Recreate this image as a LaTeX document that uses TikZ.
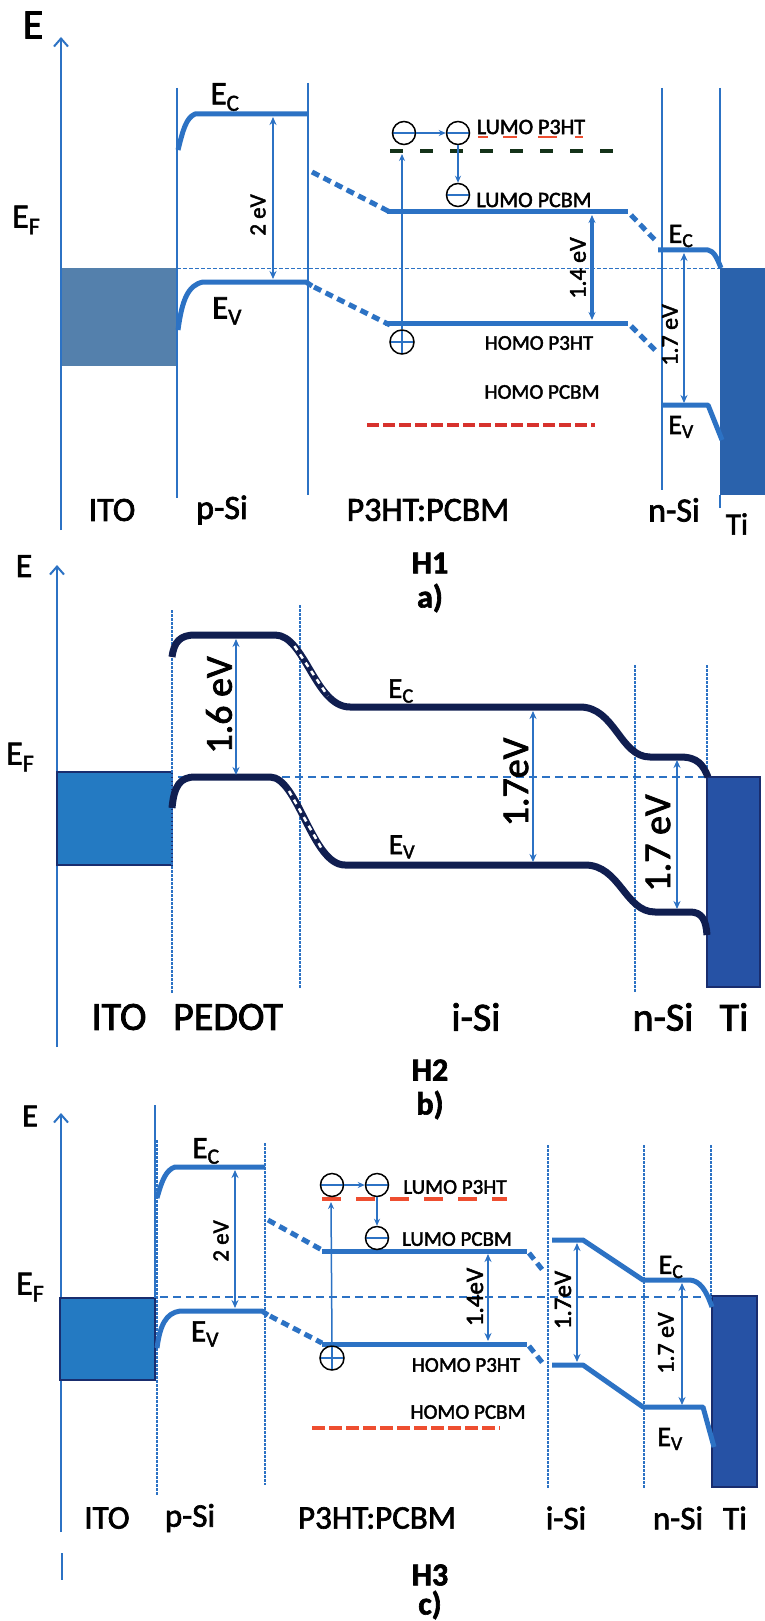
\documentclass[tikz,border=0pt]{standalone}
\usepackage{fontspec}
\setmainfont{Carlito}[FakeBold=2]
\usetikzlibrary{arrows.meta}
\newcommand\myfs[1]{\fontsize{#1}{#1}\selectfont}
\definecolor{blueA}{RGB}{44,114,196}
\definecolor{itoA}{RGB}{84,128,172}
\definecolor{tiA}{RGB}{42,98,172}
\definecolor{navy}{RGB}{16,30,80}
\definecolor{itoB}{RGB}{36,122,194}
\definecolor{tiB}{RGB}{38,82,165}
\definecolor{boxline}{RGB}{25,45,110}
\definecolor{greenD}{RGB}{20,50,25}
\definecolor{redA}{RGB}{215,50,45}
\definecolor{redC}{RGB}{238,78,48}
\tikzset{
  lbl/.style={inner sep=0pt, text=black},
  band/.style={draw=blueA, line width=5pt, line join=round},
  dband/.style={draw=blueA, line width=5pt, dash pattern=on 8pt off 5pt},
  nband/.style={draw=navy, line width=7pt, line join=round},
  wdash/.style={draw=white, line width=2.5pt, dash pattern=on 5pt off 5pt},
  vl/.style={draw=blueA, line width=1.5pt},
  dv/.style={draw=blueA, line width=2pt, dash pattern=on 2.5pt off 1.5pt},
  efa/.style={draw=blueA, line width=1pt, dash pattern=on 4pt off 2pt},
  efb/.style={draw=blueA, line width=2pt, dash pattern=on 8pt off 5pt},
  meas/.style={draw=blueA, line width=2pt, {Stealth[length=8pt,width=7pt]}-{Stealth[length=8pt,width=7pt]}},
  ax/.style={draw=blueA, line width=2pt, -{Straight Barb[length=8pt,width=14pt]}},
  earr/.style={draw=blueA, line width=1.5pt, -{Stealth[length=7pt,width=6pt]}},
  eminus/.style={circle, draw=black, line width=1.5pt, minimum size=23pt, inner sep=0pt,
    path picture={\draw[blueA, line width=1.5pt] (path picture bounding box.west) -- (path picture bounding box.east);}},
  eplus/.style={circle, draw=black, line width=1.5pt, minimum size=24pt, inner sep=0pt,
    path picture={\draw[blueA, line width=1.5pt] (path picture bounding box.west) -- (path picture bounding box.east)
      (path picture bounding box.north) -- (path picture bounding box.south);}},
}
\begin{document}
\begin{tikzpicture}[x=1pt,y=-1pt]
\useasboundingbox[fill=white] (0,0) rectangle (765,1621);

% ================= Panel a =================
\fill[itoA] (61,268) rectangle (177,366);
\coordinate (aAxB) at (61,530); \coordinate (aAxT) at (61,37);
\draw[ax] (aAxB) -- (aAxT);
\node[lbl,font=\myfs{42}] (aE) at (33,25) {E};
\node[lbl,font=\myfs{34},anchor=west] (aEF) at (12,220) {E\textsubscript{F}};
\draw[vl] (177,88) -- (177,498);
\draw[vl] (308,83) -- (308,495);
\draw[vl] (662,88) -- (662,490);
\draw[vl] (720,88) -- (720,268);
\fill[tiA] (720,268) rectangle (765,495);
\draw[vl] (720,495) -- (720,508);
\draw[efa] (177,268) -- (720,268);
% bands
\draw[band] (178,150) .. controls (183,130) and (186,118) .. (195,114) -- (308,114);
\draw[band] (178,330) .. controls (182,300) and (188,285) .. (203,282) -- (306,282) -- (312,286);
\draw[dband] (312,172) -- (390,212);
\draw[dband] (314,287) -- (390,325);
\draw[band] (387,212) -- (628,212);
\draw[band] (385,323) -- (628,323);
\draw[dband] (631,215) -- (655,240);
\draw[dband] (631,326) -- (655,350);
\draw[band] (658,250) -- (708,250) .. controls (714,251) and (717,258) .. (721,268);
\draw[band] (662,405) -- (708,405) -- (722,440);
% labels of bands
\node[lbl,font=\myfs{33}] (aEc) at (225,97) {E\textsubscript{C}};
\node[lbl,font=\myfs{33}] (aEv) at (227,311) {E\textsubscript{V}};
\node[lbl,font=\myfs{28}] (aEc2) at (681,236) {E\textsubscript{C}};
\node[lbl,font=\myfs{28}] (aEv2) at (681,427) {E\textsubscript{V}};
% gaps
\coordinate (aG1t) at (273,117); \coordinate (aG1b) at (273,279);
\draw[meas] (aG1t) -- (aG1b);
\node[lbl,font=\myfs{23},rotate=90] (aG1l) at (258,215) {2 eV};
\coordinate (aG2t) at (592,215); \coordinate (aG2b) at (592,320);
\draw[meas,line width=4pt] (aG2t) -- (aG2b);
\node[lbl,font=\myfs{24},rotate=90] (aG2l) at (578,268) {1.4 eV};
\coordinate (aG3t) at (684,253); \coordinate (aG3b) at (684,403);
\draw[meas] (aG3t) -- (aG3b);
\node[lbl,font=\myfs{24},rotate=90] (aG3l) at (670,335) {1.7 eV};
% molecular levels
\draw[draw=greenD, line width=4pt, dash pattern=on 13pt off 17pt] (390,151) -- (615,151);
\draw[draw=redA, line width=4pt, dash pattern=on 12pt off 4pt] (367,425) -- (595,425);
\node[lbl,font=\myfs{22}] (aL1) at (531,127) {LUMO P3HT};
\foreach \xa/\xb in {478/488,503/517,538/557,575/583}{\draw[redC,line width=1.5pt] (\xa,137) -- (\xb,137);}
\node[lbl,font=\myfs{22}] (aL2) at (534,200) {LUMO PCBM};
\node[lbl,font=\myfs{21}] (aH1) at (539,343) {HOMO P3HT};
\node[lbl,font=\myfs{21}] (aH2) at (542,392) {HOMO PCBM};
% carriers
\node[eminus] (ae1) at (404,133) {};
\node[eminus] (ae2) at (458,133) {};
\node[eminus] (ae3) at (458,195) {};
\node[eplus] (ah) at (402,342) {};
\draw[earr] (ae1.east) -- (ae2.west);
\draw[earr] (ae2.south) -- (ae3.north);
\coordinate (aExc) at (402,154);
\draw[earr] (ah.north) -- (aExc);
% bottom labels
\node[lbl,font=\myfs{34}] (aITO) at (112,510) {ITO};
\node[lbl,font=\myfs{34}] (apSi) at (222,510) {p-Si};
\node[lbl,font=\myfs{34}] (aP3) at (428,510) {P3HT:PCBM};
\node[lbl,font=\myfs{34}] (anSi) at (674,510) {n-Si};
\node[lbl,font=\myfs{31}] (aTi) at (737,524) {Ti};
\node[lbl,font=\myfs{32}\bfseries] (aH) at (430,563) {H1};
\node[lbl,font=\myfs{32}\bfseries] (aTag) at (430,598) {a)};

% ================= Panel b =================
\coordinate (bAxB) at (57,1047); \coordinate (bAxT) at (57,565);
\draw[ax] (bAxB) -- (bAxT);
\node[lbl,font=\myfs{34}] (bE) at (24,566) {E};
\node[lbl,font=\myfs{34},anchor=west] (bEF) at (6,757) {E\textsubscript{F}};
\filldraw[fill=itoB, draw=boxline, line width=2pt] (57,772) rectangle (172,865);
\draw[dv] (172,610) -- (172,993);
\draw[dv] (300,605) -- (300,988);
\draw[dv] (635,665) -- (635,993);
\draw[dv] (707,665) -- (707,777);
\filldraw[fill=tiB, draw=boxline, line width=2pt] (707,777) rectangle (760,987);
\draw[efb] (178,777) -- (707,777);
\draw[nband] (172,657) .. controls (174,642) and (180,635) .. (195,635) -- (275,635) .. controls (305,635) and (315,707) .. (350,707) -- (580,707) .. controls (615,707) and (620,757) .. (650,757) -- (680,757) .. controls (698,757) and (703,765) .. (708,777);
\draw[wdash] (294.5,646) -- (327.8,696);
\draw[nband] (172,808) .. controls (174,786) and (180,777) .. (195,777) -- (270,777) .. controls (298,777) and (312,865) .. (345,865) -- (585,865) .. controls (620,865) and (625,912) .. (655,912) -- (690,912) .. controls (702,912) and (706,920) .. (707,935);
\draw[wdash] (289,791) -- (323,851);
\node[lbl,font=\myfs{29}] (bEc) at (401,691) {E\textsubscript{C}};
\node[lbl,font=\myfs{29}] (bEv) at (402,847) {E\textsubscript{V}};
\coordinate (bG1t) at (236,639); \coordinate (bG1b) at (236,775);
\draw[meas] (bG1t) -- (bG1b);
\node[lbl,font=\myfs{38},rotate=90] (bG1l) at (219,705) {1.6 eV};
\coordinate (bG2t) at (533,711); \coordinate (bG2b) at (533,862);
\draw[meas] (bG2t) -- (bG2b);
\node[lbl,font=\myfs{38},rotate=90] (bG2l) at (516,782) {1.7eV};
\coordinate (bG3t) at (677,760); \coordinate (bG3b) at (677,909);
\draw[meas] (bG3t) -- (bG3b);
\node[lbl,font=\myfs{38},rotate=90] (bG3l) at (658,843) {1.7 eV};
\node[lbl,font=\myfs{40}] (bITO) at (119,1017) {ITO};
\node[lbl,font=\myfs{40}] (bPED) at (228,1017) {PEDOT};
\node[lbl,font=\myfs{40}] (biSi) at (476,1017) {i-Si};
\node[lbl,font=\myfs{40}] (bnSi) at (663,1017) {n-Si};
\node[lbl,font=\myfs{40}] (bTi) at (734,1017) {Ti};
\node[lbl,font=\myfs{32}\bfseries] (bH) at (430,1070) {H2};
\node[lbl,font=\myfs{32}\bfseries] (bTag) at (430,1105) {b)};

% ================= Panel c =================
\coordinate (cAxB) at (61,1532); \coordinate (cAxT) at (61,1113);
\draw[ax] (cAxB) -- (cAxT);
\draw[vl] (62,1553) -- (62,1580);
\node[lbl,font=\myfs{32}] (cE) at (30,1116) {E};
\node[lbl,font=\myfs{34},anchor=west] (cEF) at (16,1287) {E\textsubscript{F}};
\filldraw[fill=itoB, draw=boxline, line width=2pt] (60,1298) rectangle (155,1380);
\draw[vl] (155,1105) -- (155,1298);
\draw[dv] (157,1140) -- (157,1495);
\draw[dv] (265,1143) -- (265,1485);
\draw[dv] (548,1145) -- (548,1488);
\draw[dv] (644,1145) -- (644,1488);
\draw[dv] (711,1145) -- (711,1296);
\filldraw[fill=tiB, draw=boxline, line width=2pt] (712,1296) rectangle (757,1487);
\draw[efb] (160,1297) -- (712,1297);
\draw[band] (157,1198) .. controls (162,1180) and (166,1170) .. (175,1167) -- (265,1167);
\draw[band] (157,1348) .. controls (160,1325) and (166,1313) .. (180,1311) -- (262,1311) -- (268,1315);
\draw[dband] (268,1220) -- (322,1250);
\draw[dband] (270,1316) -- (322,1343);
\draw[band] (322,1251) -- (527,1251);
\draw[band] (322,1344) -- (527,1344);
\draw[dband] (529,1253) -- (545,1273);
\draw[dband] (529,1346) -- (545,1366);
\draw[band] (552,1240) -- (583,1240) -- (643,1280) -- (690,1280) .. controls (700,1281) and (706,1290) .. (712,1307);
\draw[band] (552,1365) -- (583,1365) -- (643,1407) -- (703,1407) -- (714,1447);
\node[lbl,font=\myfs{31}] (cEc) at (206,1151) {E\textsubscript{C}};
\node[lbl,font=\myfs{31}] (cEv) at (205,1334) {E\textsubscript{V}};
\node[lbl,font=\myfs{28}] (cEc2) at (671,1267) {E\textsubscript{C}};
\node[lbl,font=\myfs{28}] (cEv2) at (670,1439) {E\textsubscript{V}};
\coordinate (cG1t) at (235,1170); \coordinate (cG1b) at (235,1308);
\draw[meas] (cG1t) -- (cG1b);
\node[lbl,font=\myfs{23},rotate=90] (cG1l) at (221,1241) {2 eV};
\coordinate (cG2t) at (488,1254); \coordinate (cG2b) at (488,1341);
\draw[meas] (cG2t) -- (cG2b);
\node[lbl,font=\myfs{25},rotate=90] (cG2l) at (475,1297) {1.4eV};
\coordinate (cG3t) at (577,1243); \coordinate (cG3b) at (577,1362);
\draw[meas] (cG3t) -- (cG3b);
\node[lbl,font=\myfs{25},rotate=90] (cG3l) at (563,1300) {1.7eV};
\coordinate (cG4t) at (682,1283); \coordinate (cG4b) at (682,1405);
\draw[meas] (cG4t) -- (cG4b);
\node[lbl,font=\myfs{24},rotate=90] (cG4l) at (666,1343) {1.7 eV};
\draw[draw=redC, line width=4pt, dash pattern=on 19pt off 15pt] (322,1199) -- (507,1199);
\draw[draw=redC, line width=4pt, dash pattern=on 13pt off 4pt] (312,1428) -- (500,1428);
\node[lbl,font=\myfs{21}] (cL1) at (455,1187) {LUMO P3HT};
\node[lbl,font=\myfs{21}] (cL2) at (457,1239) {LUMO PCBM};
\node[lbl,font=\myfs{21}] (cH1) at (466,1365) {HOMO P3HT};
\node[lbl,font=\myfs{21}] (cH2) at (468,1412) {HOMO PCBM};
\node[eminus] (ce1) at (332,1185) {};
\node[eminus] (ce2) at (377,1185) {};
\node[eminus] (ce3) at (377,1238) {};
\node[eplus] (ch) at (332,1358) {};
\draw[earr] (ce1.east) -- (ce2.west);
\draw[earr] (ce2.south) -- (ce3.north);
\coordinate (cExc) at (331,1202);
\draw[earr] (ch.north) -- (cExc);
\node[lbl,font=\myfs{33}] (cITO) at (107,1518) {ITO};
\node[lbl,font=\myfs{33}] (cpSi) at (190,1518) {p-Si};
\node[lbl,font=\myfs{33}] (cP3) at (377,1518) {P3HT:PCBM};
\node[lbl,font=\myfs{33}] (ciSi) at (566,1518) {i-Si};
\node[lbl,font=\myfs{33}] (cnSi) at (678,1518) {n-Si};
\node[lbl,font=\myfs{33}] (cTi) at (735,1518) {Ti};
\node[lbl,font=\myfs{32}\bfseries] (cH) at (430,1575) {H3};
\node[lbl,font=\myfs{32}\bfseries] (cTag) at (430,1605) {c)};
\end{tikzpicture}
\end{document}
